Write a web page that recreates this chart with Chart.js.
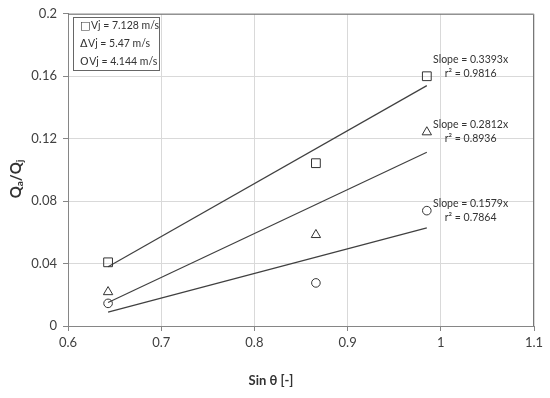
<!DOCTYPE html>
<html lang="en">
<head>
    <meta charset="UTF-8">
    <title>Qa/Qj vs Sin θ</title>
    <script src="https://cdn.jsdelivr.net/npm/chart.js"></script>
    <style>
        body { margin: 0; background: #fff; }
        #chart { display: block; }
    </style>
</head>
<body>
    <canvas id="chart" width="550" height="398"></canvas>
    <script>
        // Measured values (sin of 40, 60, 80 degrees)
        const sinTheta = [0.643, 0.866, 0.985];
        const vj7128 = [0.0408, 0.1043, 0.160];
        const vj547 = [0.0218, 0.0584, 0.1242];
        const vj4144 = [0.0145, 0.0276, 0.0739];

        // Trend line end points
        const trendX = [0.643, 0.985];
        const trend7128 = [0.038, 0.154];
        const trend547 = [0.0151, 0.1113];
        const trend4144 = [0.0089, 0.0629];

        const xTicks = [0.6, 0.7, 0.8, 0.9, 1, 1.1];
        const yTicks = [0, 0.04, 0.08, 0.12, 0.16, 0.2];

        const legendSymbols = ['\u25A1', '\u0394', 'O'];
        const legendLabels = ['Vj = 7.128 m/s', 'Vj = 5.47 m/s', 'Vj = 4.144 m/s'];
        const slopeLabels = ['Slope = 0.3393x', 'Slope = 0.2812x', 'Slope = 0.1579x'];
        const r2Labels = ['r\u00B2 = 0.9816', 'r\u00B2 = 0.8936', 'r\u00B2 = 0.7864'];

        const toPts = (xs, ys) => xs.map((x, i) => ({ x: x, y: ys[i] }));

        const FONT = 'Lato, "Open Sans", sans-serif';

        const markerSet = (label, data, style, r) => ({
            label: label,
            data: toPts(sinTheta, data),
            showLine: false,
            pointStyle: style,
            pointRadius: r,
            pointBackgroundColor: 'rgba(0,0,0,0)',
            pointBorderColor: '#333',
            pointBorderWidth: 1
        });
        const trendSet = (data) => ({
            data: toPts(trendX, data),
            showLine: true,
            borderColor: '#404040',
            borderWidth: 1.2,
            pointRadius: 0
        });

        // frame, legend box, titles and fit labels
        const decorations = {
            id: 'decorations',
            afterDraw(chart) {
                const ctx = chart.ctx;
                const a = chart.chartArea;
                const xs = chart.scales.x, ys = chart.scales.y;
                ctx.save();

                // plot frame top/right
                ctx.strokeStyle = '#777';
                ctx.lineWidth = 1;
                ctx.beginPath();
                ctx.moveTo(a.left, a.top + 0.5);
                ctx.lineTo(a.right - 0.5, a.top + 0.5);
                ctx.lineTo(a.right - 0.5, a.bottom);
                ctx.stroke();

                // legend box
                ctx.fillStyle = '#fff';
                ctx.fillRect(73, 17, 86, 53);
                ctx.strokeStyle = '#666';
                ctx.strokeRect(73.5, 17.5, 86, 53);
                ctx.fillStyle = '#333';
                ctx.textBaseline = 'middle';
                ctx.textAlign = 'left';
                legendLabels.forEach((t, i) => {
                    const y = 26 + i * 18;
                    ctx.font = '11px "DejaVu Sans", ' + FONT;
                    ctx.fillText(legendSymbols[i], 80, y);
                    const sw = ctx.measureText(legendSymbols[i]).width;
                    ctx.font = '10.5px ' + FONT;
                    ctx.fillText(t, 80 + sw + 0.5, y);
                });

                // fit annotations
                ctx.font = '10.5px ' + FONT;
                ctx.textAlign = 'center';
                ctx.fillStyle = '#333';
                const annY = [0.1707, 0.1291, 0.0782];
                slopeLabels.forEach((t, i) => {
                    const px = xs.getPixelForValue(1.032);
                    const py = ys.getPixelForValue(annY[i]);
                    ctx.fillText(t, px, py);
                    ctx.fillText(r2Labels[i], px, py + 14);
                });

                // x title
                ctx.font = 'bold 13px ' + FONT;
                ctx.fillStyle = '#333';
                ctx.fillText('Sin \u03B8 [-]', 271, 381);

                // y title with subscripts, rotated
                ctx.translate(16, 179);
                ctx.rotate(-Math.PI / 2);
                const big = 'bold 15px ' + FONT, small = 'bold 10px ' + FONT;
                const parts = [['Q', big, 0], ['a', small, 4], ['/Q', big, 0], ['j', small, 4]];
                let w = 0;
                parts.forEach(p => { ctx.font = p[1]; w += ctx.measureText(p[0]).width; });
                let x = -w / 2;
                ctx.textAlign = 'left';
                parts.forEach(p => {
                    ctx.font = p[1];
                    ctx.fillText(p[0], x, p[2]);
                    x += ctx.measureText(p[0]).width;
                });
                ctx.restore();
            }
        };

        new Chart(document.getElementById('chart'), {
            type: 'scatter',
            data: {
                datasets: [
                    markerSet('Vj = 7.128 m/s', vj7128, 'rect', 6.2),
                    markerSet('Vj = 5.47 m/s', vj547, 'triangle', 5.4),
                    markerSet('Vj = 4.144 m/s', vj4144, 'circle', 4.3),
                    trendSet(trend7128),
                    trendSet(trend547),
                    trendSet(trend4144)
                ]
            },
            options: {
                responsive: false,
                animation: false,
                layout: { padding: { left: 0, right: 16, top: 12, bottom: 0 } },
                plugins: {
                    legend: { display: false },
                    tooltip: { enabled: false }
                },
                scales: {
                    x: {
                        type: 'linear',
                        min: 0.6,
                        max: 1.1,
                        afterBuildTicks: s => { s.ticks = xTicks.map(v => ({ value: v })); },
                        afterFit: s => { s.height = 72; },
                        ticks: {
                            callback: v => String(+v.toFixed(2)),
                            color: '#404040',
                            font: { family: FONT, size: 13 },
                            padding: 4,
                            maxRotation: 0
                        },
                        grid: { color: '#d9d9d9', tickColor: '#868686', tickLength: 5 },
                        border: { color: '#868686' }
                    },
                    y: {
                        min: 0,
                        max: 0.2,
                        afterBuildTicks: s => { s.ticks = yTicks.map(v => ({ value: v })); },
                        afterFit: s => { s.width = 68; },
                        ticks: {
                            callback: v => String(+v.toFixed(2)),
                            color: '#404040',
                            font: { family: FONT, size: 13 },
                            padding: 6
                        },
                        grid: { color: '#d9d9d9', tickColor: '#868686', tickLength: 5 },
                        border: { color: '#868686' }
                    }
                }
            },
            plugins: [decorations]
        });
    </script>
</body>
</html>
